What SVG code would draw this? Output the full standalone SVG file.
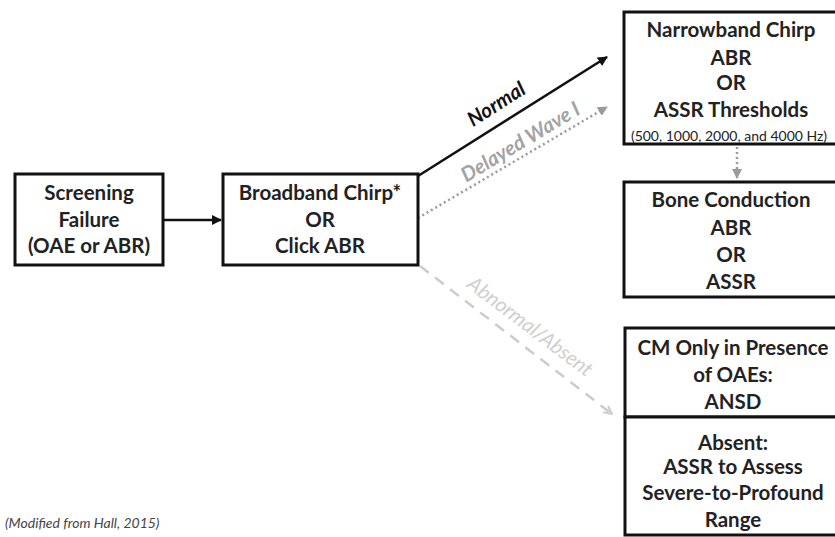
<svg xmlns="http://www.w3.org/2000/svg" width="835" height="537" viewBox="0 0 835 537">
  <style>
    .box { fill: #ffffff; stroke: #111111; stroke-width: 3; }
    .t { font-family: Lato, "Open Sans", "Liberation Sans", sans-serif; font-weight: bold; font-size: 20.5px; fill: #222222; text-anchor: middle; }
    .small { font-family: Lato, "Liberation Sans", sans-serif; font-size: 14px; fill: #222222; text-anchor: middle; }
    .lbl { font-family: Lato, "Liberation Sans", sans-serif; font-style: italic; font-size: 20.5px; text-anchor: middle; }
    .note { font-family: Lato, "Liberation Sans", sans-serif; font-style: italic; font-size: 14px; fill: #444444; }
  </style>
  <defs>
    <marker id="headBlack" viewBox="0 0 10 10" refX="9" refY="5" markerWidth="4" markerHeight="4" orient="auto" markerUnits="strokeWidth">
      <path d="M0,0 L10,5 L0,10 z" fill="#111111"/>
    </marker>
    <marker id="headGray" viewBox="0 0 10 10" refX="9" refY="5" markerWidth="4" markerHeight="4" orient="auto" markerUnits="strokeWidth">
      <path d="M0,0 L10,5 L0,10 z" fill="#9a9a9a"/>
    </marker>
    <marker id="headLight" viewBox="0 0 10 10" refX="9" refY="5" markerWidth="4" markerHeight="4" orient="auto" markerUnits="strokeWidth">
      <path d="M1,1 L9,5 L1,9" fill="none" stroke="#cccccc" stroke-width="2"/>
    </marker>
  </defs>

  <!-- connectors -->
  <g id="connectors">
    <line x1="163" y1="220" x2="221" y2="220" stroke="#111111" stroke-width="2.5" marker-end="url(#headBlack)"/>
    <line x1="418" y1="176" x2="607" y2="57" stroke="#111111" stroke-width="2.5" marker-end="url(#headBlack)"/>
    <line x1="418" y1="218" x2="607" y2="107" stroke="#9a9a9a" stroke-width="2.5" stroke-dasharray="2 3" marker-end="url(#headGray)"/>
    <line x1="737" y1="147" x2="737" y2="178" stroke="#9a9a9a" stroke-width="2.5" stroke-dasharray="2 3" marker-end="url(#headGray)"/>
    <line x1="420" y1="266" x2="612" y2="414" stroke="#cccccc" stroke-width="2.5" stroke-dasharray="11 8" marker-end="url(#headLight)"/>
    <text class="lbl" transform="translate(500,110) rotate(-32.5)" font-weight="bold" fill="#111111">Normal</text>
    <text class="lbl" transform="translate(524,148) rotate(-31)" font-weight="bold" fill="#a3a3a3">Delayed Wave I</text>
    <text class="lbl" transform="translate(526,332) rotate(37)" fill="#cfcfcf">Abnormal/Absent</text>
  </g>

  <g id="screening">
    <rect class="box" x="15" y="174" width="148" height="91"/>
    <text class="t" x="89" y="200">Screening</text>
    <text class="t" x="89" y="227">Failure</text>
    <text class="t" x="89" y="253">(OAE or ABR)</text>
  </g>

  <g id="broadband">
    <rect class="box" x="223" y="174" width="195" height="91"/>
    <text class="t" x="320" y="200">Broadband Chirp*</text>
    <text class="t" x="320" y="227">OR</text>
    <text class="t" x="320" y="253">Click ABR</text>
  </g>

  <g id="narrowband">
    <rect class="box" x="624" y="12" width="220" height="132"/>
    <text class="t" x="731" y="37">Narrowband Chirp</text>
    <text class="t" x="731" y="65">ABR</text>
    <text class="t" x="731" y="90">OR</text>
    <text class="t" x="731" y="117">ASSR Thresholds</text>
    <text class="small" x="729" y="141">(500, 1000, 2000, and 4000 Hz)</text>
  </g>

  <g id="bone">
    <rect class="box" x="624" y="182" width="220" height="115"/>
    <text class="t" x="731" y="207">Bone Conduction</text>
    <text class="t" x="731" y="235">ABR</text>
    <text class="t" x="731" y="262">OR</text>
    <text class="t" x="731" y="289">ASSR</text>
  </g>

  <g id="cm-only">
    <rect class="box" x="625" y="328" width="220" height="89"/>
    <text class="t" x="733" y="355">CM Only in Presence</text>
    <text class="t" x="733" y="382">of OAEs:</text>
    <text class="t" x="733" y="409">ANSD</text>
  </g>

  <g id="absent">
    <rect class="box" x="625" y="417" width="220" height="118"/>
    <text class="t" x="733" y="450">Absent:</text>
    <text class="t" x="733" y="474">ASSR to Assess</text>
    <text class="t" x="733" y="500">Severe-to-Profound</text>
    <text class="t" x="733" y="527">Range</text>
  </g>

  <text class="note" x="5" y="528">(Modified from Hall, 2015)</text>
</svg>
